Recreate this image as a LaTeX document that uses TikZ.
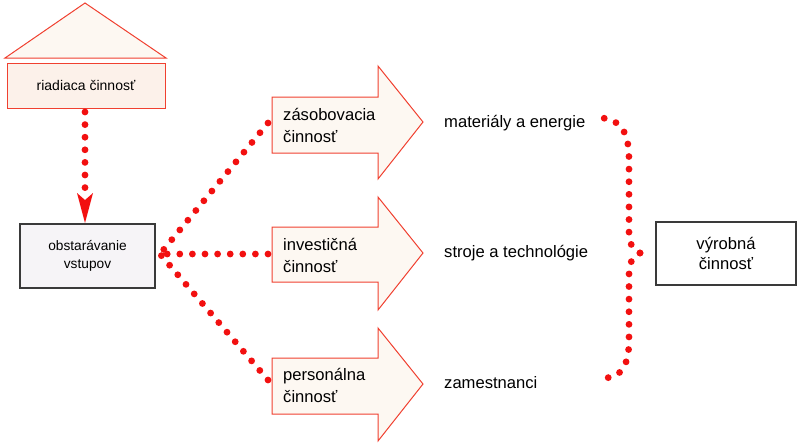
\documentclass[tikz,border=0pt]{standalone}
\usepackage{fontspec}
\setmainfont{Liberation Sans}
\definecolor{redline}{HTML}{F04030}
\definecolor{dotred}{HTML}{F21010}
\definecolor{paleA}{HTML}{FDF8F2}
\definecolor{paleB}{HTML}{FCF1EA}
\definecolor{paleC}{HTML}{F6F4F7}
\definecolor{grayline}{HTML}{3A3A3A}
\begin{document}
\begin{tikzpicture}[x=1pt,y=-1pt,
  dotline/.style={draw=dotred,line width=6.8pt,line cap=round,dash pattern=on 0pt off 12.6pt},
  redshape/.style={draw=redline,line width=1pt,fill=paleA},
  graybox/.style={draw=grayline,line width=1.4pt,fill=paleC,inner sep=0pt},
  lbl/.style={font=\fontsize{16.6}{22}\selectfont,align=left,anchor=west,inner sep=0pt},
  plain/.style={font=\fontsize{16.6}{20}\selectfont,anchor=west,inner sep=0pt}]
\useasboundingbox (0,0) rectangle (800,445);
% roof and control box
\path[redshape,fill=paleA] (5,58) -- (85,3) -- (166,58) -- cycle;
\node[draw=redline,line width=1pt,fill=paleB,minimum width=158pt,minimum height=45pt,inner sep=0pt,
      font=\fontsize{14}{17}\selectfont] (riad) at (86,85.5) {riadiaca činnosť};
% obstaravanie
\node[graybox,minimum width=135pt,minimum height=64pt,align=center,
      font=\fontsize{13.7}{18}\selectfont] (obst) at (87.5,256) {obstarávanie\\vstupov};
% arrow from riadiaca to obstaravanie
\coordinate (vtop) at (85,112);
\coordinate (vbot) at (85,190);
\draw[dotline] (vtop) -- (vbot);
\fill[dotred] (77,193) -- (85,200) -- (93,193) -- (85,223) -- cycle;
% big arrows
\path[redshape] (272,97) -- (378,97) -- (378,66) -- (423,122) -- (378,179) -- (378,153) -- (272,153) -- cycle;
\path[redshape] (272,227) -- (378,227) -- (378,197) -- (423,253) -- (378,310) -- (378,282) -- (272,282) -- cycle;
\path[redshape] (272,358) -- (378,358) -- (378,328) -- (423,384) -- (378,441) -- (378,414) -- (272,414) -- cycle;
\node[lbl] (zas) at (283,125) {zásobovacia\\činnosť};
\node[lbl] (inv) at (283,255) {investičná\\činnosť};
\node[lbl] (per) at (283,385) {personálna\\činnosť};
% connectors
\coordinate (src) at (160,254);
\coordinate (tA) at (268,123);
\coordinate (tB) at (268,254);
\coordinate (tC) at (268,380);
\draw[dotline] (tA) -- (src);
\draw[dotline] (tB) -- (src);
\draw[dotline] (tC) -- (src);
% outputs
\node[plain] (mat) at (444,123) {materiály a energie};
\node[plain] (str) at (444,253) {stroje a technológie};
\node[plain] (zam) at (444,383) {zamestnanci};
% brace
\coordinate (tip) at (640,253);
\coordinate (btop) at (603,118);
\coordinate (bbot) at (605,378);
\draw[dotline] (tip) .. controls (633,250) and (629,244) .. (629,232) -- (629,160) .. controls (629,135) and (623,121) .. (btop);
\draw[dotline] (tip) .. controls (633,256) and (629,262) .. (629,275) -- (629,340) .. controls (629,366) and (621,377) .. (bbot);
% vyrobna
\node[graybox,line width=1.2pt,fill=white,minimum width=140pt,minimum height=63pt,align=center,
      font=\fontsize{16.6}{20}\selectfont] (vyr) at (726,253.5) {výrobná\\činnosť};
\end{tikzpicture}
\end{document}
